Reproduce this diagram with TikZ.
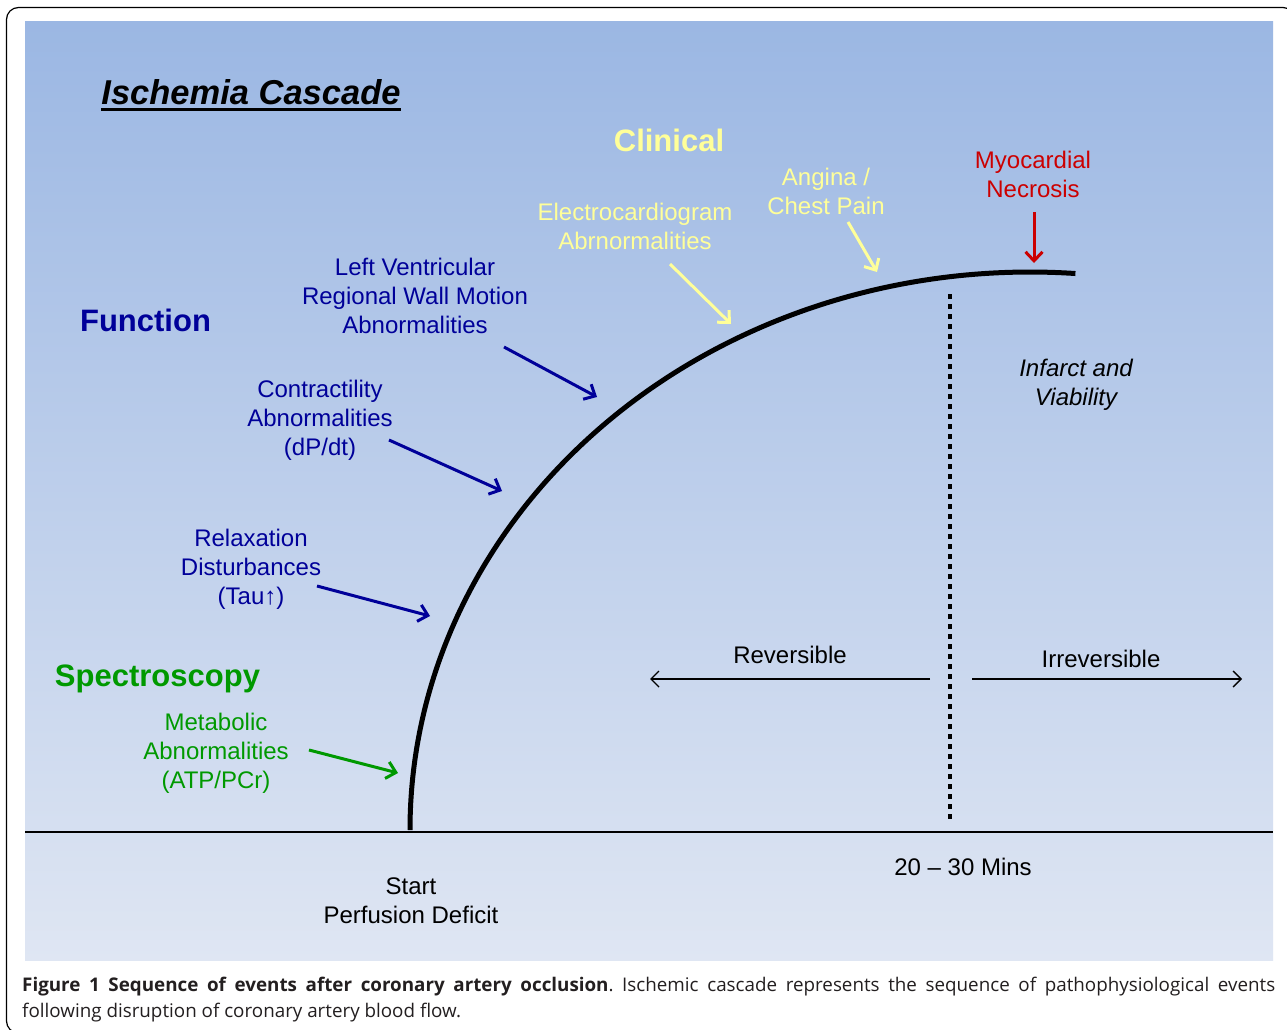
\documentclass[tikz,border=0pt]{standalone}
\usepackage{fontspec}
\setmainfont{Liberation Sans}
\newfontfamily\capfont{Open Sans}
\usetikzlibrary{arrows.meta}
\definecolor{dblue}{RGB}{0,0,153}
\definecolor{dgreen}{RGB}{0,153,0}
\definecolor{dred}{RGB}{204,0,0}
\definecolor{lyellow}{RGB}{255,255,153}
\definecolor{paneltop}{RGB}{155,183,227}
\definecolor{panelbot}{RGB}{223,230,243}
\definecolor{captxt}{RGB}{35,31,32}
\begin{document}
\begin{tikzpicture}[x=1pt,y=-1pt,
  lbl/.style={inner sep=0pt, align=center, font=\fontsize{24}{29}\selectfont},
  one/.style={inner sep=0pt, anchor=base, font=\fontsize{24}{29}\selectfont},
  head/.style={inner sep=0pt, anchor=base, font=\fontsize{31}{37}\selectfont\bfseries},
  callout/.style={line width=3pt, -{Straight Barb[length=9pt,width=17pt]}},
  span/.style={line width=1.4pt, -{Straight Barb[length=8pt,width=16pt]}},
  capline/.style={inner sep=0pt, anchor=base west, text=captxt, font=\capfont\fontsize{18.8}{26}\selectfont\frenchspacing},
]
\useasboundingbox (0,0) rectangle (1287,1030);
\clip (0,0) rectangle (1287,1030);
\fill[white] (0,0) rectangle (1287,1030);
% outer frame
\draw[line width=1.2pt, rounded corners=12pt] (6.5,7.5) rectangle (1295,1033);
% panel
\shade[top color=paneltop, bottom color=panelbot] (25,22) rectangle (1273,960);

% coordinates
\coordinate (baseL) at (25,832);
\coordinate (baseR) at (1273,832);
\coordinate (curveA) at (410,830);
\coordinate (dotA) at (950,294);
\coordinate (dotB) at (950,822);
\coordinate (myoS) at (1034,212);  \coordinate (myoT) at (1034,263);
\coordinate (angS) at (848,222);   \coordinate (angT) at (877,272);
\coordinate (ecgS) at (670,264);   \coordinate (ecgT) at (731,324);
\coordinate (lvS) at (504,347);    \coordinate (lvT) at (597,397);
\coordinate (coS) at (389,440);    \coordinate (coT) at (502,491);
\coordinate (reS) at (317,586);    \coordinate (reT) at (430,616);
\coordinate (meS) at (309,750);    \coordinate (meT) at (398,773);
\coordinate (revS) at (930,679);   \coordinate (revT) at (650,679);
\coordinate (irrS) at (972,679);   \coordinate (irrT) at (1242,679);

% base line, curve, dotted line
\draw[line width=1.6pt] (baseL) -- (baseR);
\draw[line width=5pt] (curveA) arc[start angle=180, end angle=85.8, x radius=620pt, y radius=558pt];
\draw[line width=4.5pt, dash pattern=on 5pt off 5pt] (dotA) -- (dotB);

% title
\node[inner sep=0pt, anchor=base, font=\fontsize{34.5}{40}\selectfont\bfseries\itshape] (title) at (251,105) {Ischemia Cascade};
\draw[line width=3pt] ([yshift=-5pt]title.base west) -- ([yshift=-5pt]title.base east);

% headings
\node[head, text=lyellow] (clinical) at (669,151) {Clinical};
\node[head, text=dblue] (function) at (145.5,331) {Function};
\node[head, text=dgreen] (spectro) at (157.5,686) {Spectroscopy};

% labels
\node[lbl, text=dred] (myo) at (1033,177.2) {\strut Myocardial\\\strut Necrosis};
\node[lbl, text=lyellow] (angina) at (826,194.2) {\strut Angina /\\\strut Chest Pain};
\node[lbl, text=lyellow] (ecg) at (635,229.2) {\strut Electrocardiogram\\\strut Abrnormalities};
\node[lbl, text=dblue] (lv) at (415,298.7) {\strut Left Ventricular\\\strut Regional Wall Motion\\\strut Abnormalities};
\node[lbl, text=dblue] (contr) at (320,420.7) {\strut Contractility\\\strut Abnormalities\\\strut (dP/dt)};
\node[lbl, text=dblue] (relax) at (251,569.7) {\strut Relaxation\\\strut Disturbances\\\strut (Tau↑)};
\node[lbl, text=dgreen] (metab) at (216,753.2) {\strut Metabolic\\\strut Abnormalities\\\strut (ATP/PCr)};
\node[lbl, font=\fontsize{24}{29}\selectfont\itshape] (infarct) at (1076,385.2) {\strut Infarct and\\\strut Viability};
\node[lbl] (start) at (411,903.2) {\strut Start\\\strut Perfusion Deficit};
\node[one] (rev) at (790,663.5) {Reversible};
\node[one] (irrev) at (1101,667.5) {Irreversible};
\node[one] (mins) at (963,875.5) {20 – 30 Mins};

% callout arrows
\draw[callout, dred] (myoS) -- (myoT);
\draw[callout, lyellow] (angS) -- (angT);
\draw[callout, lyellow] (ecgS) -- (ecgT);
\draw[callout, dblue] (lvS) -- (lvT);
\draw[callout, dblue] (coS) -- (coT);
\draw[callout, dblue] (reS) -- (reT);
\draw[callout, dgreen] (meS) -- (meT);
\draw[span] (revS) -- (revT);
\draw[span] (irrS) -- (irrT);

% caption
\node[capline] (cap1) at (22,991) {\makebox[1253pt][s]{\textbf{Figure 1 Sequence of events after coronary artery occlusion}. Ischemic cascade represents the sequence of pathophysiological events}};
\node[capline] (cap2) at (22,1017) {following disruption of coronary artery blood flow.};
\end{tikzpicture}
\end{document}
